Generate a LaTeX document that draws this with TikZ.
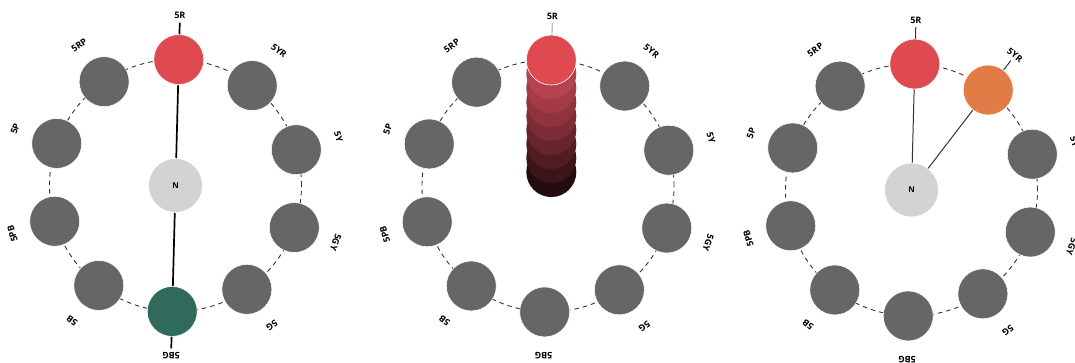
\documentclass[tikz,border=0pt]{standalone}
\usepackage{fontspec}
\setmainfont{Open Sans}[BoldFont={Open Sans Bold}]
\usetikzlibrary{calc}
\pgfdeclarelayer{bg}
\pgfsetlayers{bg,main}
\definecolor{huegray}{HTML}{666666}
\definecolor{neutralgray}{HTML}{D3D3D3}
\definecolor{ringgray}{HTML}{333333}
\definecolor{red5r}{HTML}{DE4A4F}
\definecolor{green5bg}{HTML}{2F6A5C}
\definecolor{orange5yr}{HTML}{E27B45}
\definecolor{stack1}{HTML}{B5434F}
\definecolor{stack2}{HTML}{A33B46}
\definecolor{stack3}{HTML}{90333D}
\definecolor{stack4}{HTML}{7C2C34}
\definecolor{stack5}{HTML}{67252B}
\definecolor{stack6}{HTML}{511D22}
\definecolor{stack7}{HTML}{3B1519}
\definecolor{stack8}{HTML}{250C10}
\begin{document}
\begin{tikzpicture}[x=1pt,y=1pt,
  hue/.style={circle, minimum size=50pt, inner sep=0pt, draw=white, line width=0.6pt, fill=huegray},
  neutral/.style={circle, minimum size=54pt, inner sep=0pt, draw=white, line width=0.6pt,
    fill=neutralgray, font=\bfseries\fontsize{8}{9}\selectfont},
  lbl/.style={font=\bfseries\fontsize{9}{10}\selectfont, inner sep=0pt},
  ring/.style={draw=ringgray, line width=0.9pt, dash pattern=on 4.5pt off 4pt},
  link/.style={draw=black, line width=1.7pt},
  thinlink/.style={draw=black!80, line width=1pt},
  guide/.style={draw=black!40, line width=0.9pt},
  % hues that are highlighted in each panel
  tint 1-5R/.style={fill=red5r},
  tint 1-5BG/.style={fill=green5bg},
  tint 2-5R/.style={fill=red5r},
  tint 3-5R/.style={fill=red5r},
  tint 3-5YR/.style={fill=orange5yr}]
\useasboundingbox (0,0) rectangle (1075,363);

% value/chroma stack below 5R in the middle panel
\coordinate (p2-top) at ($(548,177)+(88.5:126)$);
\foreach \k in {8,7,...,1}{
  \node[hue, draw=none, fill=stack\k] (p2-s\k) at ($(p2-top)+(0,-14*\k)$) {};
}

% the three hue circles
\foreach \p/\cx/\cy in {1/175.5/177.5, 2/548/177, 3/911.5/173}{
  \coordinate (c\p) at (\cx,\cy);
  \begin{pgfonlayer}{bg}
    \draw[ring] (c\p) circle[radius=126];
  \end{pgfonlayer}
  \foreach \n/\a in {5R/90, 5YR/54, 5Y/18, 5GY/-18, 5G/-54, 5BG/-90,
                     5B/-126, 5PB/-162, 5P/-198, 5RP/-234}{
    \node[hue, tint \p-\n/.try] (p\p-\n) at ($(c\p)+(\a-1.5:126)$) {};
    \node[lbl, rotate=\a-91.5] (p\p-l\n) at ($(c\p)+(\a-1.5:170)$) {\n};
    \coordinate (p\p-o\n) at ($(c\p)+(\a-1.5:163)$);
  }
}

% neutral centres
\node[neutral] (p1-N) at (c1) {N};
\node[neutral] (p3-N) at (c3) {N};

% connectors
\begin{pgfonlayer}{bg}
  \draw[link] (p1-o5R) -- (p1-o5BG);
  \draw[guide] (p2-o5R) -- (p2-5R.center);
  \draw[thinlink] (p3-o5R) -- (p3-N.center);
  \draw[thinlink] (p3-o5YR) -- (p3-N.center);
\end{pgfonlayer}
\end{tikzpicture}
\end{document}
